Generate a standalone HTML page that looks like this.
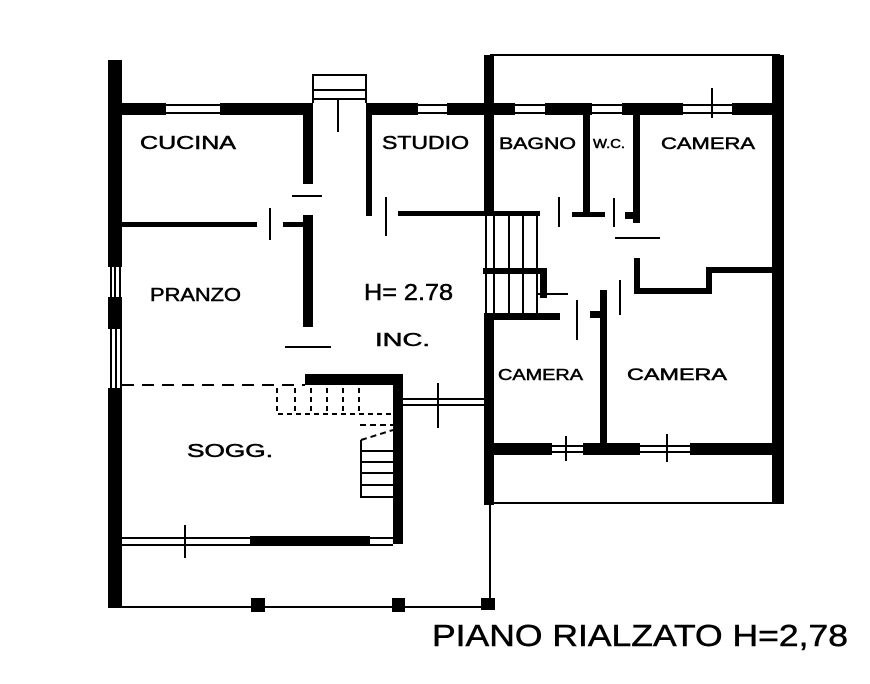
<!DOCTYPE html>
<html><head><meta charset="utf-8"><style>
html,body{margin:0;padding:0;background:#fff;}
svg{display:block;}
text{font-family:"Liberation Sans",sans-serif;font-weight:normal;fill:#000;stroke:#000;stroke-width:0.5;}
</style></head><body>
<svg width="870" height="684" viewBox="0 0 870 684" xmlns="http://www.w3.org/2000/svg">
<g fill="#000">
<rect x="108" y="60" width="14" height="207"/>
<rect x="108" y="297" width="14" height="32"/>
<rect x="108" y="388" width="14" height="220"/>
<rect x="110" y="267" width="2" height="30"/><rect x="119" y="267" width="2" height="30"/><rect x="114" y="267" width="2" height="30"/>
<rect x="110" y="329" width="2" height="59"/><rect x="115" y="329" width="2" height="59"/><rect x="120" y="329" width="2" height="59"/>
<rect x="121" y="103" width="45" height="12"/>
<rect x="220" y="103" width="93" height="12"/>
<rect x="166" y="104" width="54" height="2"/><rect x="166" y="112" width="54" height="2"/>
<rect x="366" y="103" width="52" height="12"/>
<rect x="447" y="103" width="45" height="12"/>
<rect x="418" y="104" width="29" height="2"/><rect x="418" y="112" width="29" height="2"/>
<rect x="312" y="74" width="2" height="29"/><rect x="365" y="74" width="2" height="29"/>
<rect x="312" y="74" width="55" height="2"/><rect x="312" y="89" width="55" height="2"/><rect x="312" y="98" width="55" height="2"/>
<rect x="337" y="100" width="2" height="32"/>
<rect x="303" y="115" width="10" height="69"/>
<rect x="292" y="195" width="30" height="2"/>
<rect x="303" y="215" width="10" height="112"/>
<rect x="283" y="222" width="25" height="5"/>
<rect x="121" y="222" width="136" height="5"/>
<rect x="269" y="208" width="2" height="32"/>
<rect x="285" y="346" width="46" height="2"/>
<rect x="366" y="115" width="6" height="101"/>
<rect x="385" y="197" width="2" height="39"/>
<rect x="398" y="211" width="142" height="5"/>
<rect x="484" y="55" width="10" height="158"/>
<rect x="490" y="54" width="290" height="2"/>
<rect x="772" y="55" width="12" height="448"/>
<rect x="492" y="103" width="23" height="12"/>
<rect x="545" y="103" width="47" height="12"/>
<rect x="622" y="103" width="61" height="12"/>
<rect x="732" y="103" width="42" height="12"/>
<rect x="515" y="104" width="30" height="2"/><rect x="515" y="112" width="30" height="2"/>
<rect x="592" y="104" width="30" height="2"/><rect x="592" y="112" width="30" height="2"/>
<rect x="683" y="104" width="49" height="2"/><rect x="683" y="112" width="49" height="2"/>
<rect x="711" y="88" width="2" height="30"/>
<rect x="583" y="115" width="7" height="100"/>
<rect x="572" y="212" width="33" height="5"/>
<rect x="633" y="115" width="7" height="108"/>
<rect x="625" y="212" width="12" height="7"/>
<rect x="558" y="197" width="2" height="30"/>
<rect x="613" y="198" width="2" height="29"/>
<rect x="615" y="237" width="45" height="2"/>
<rect x="634" y="258" width="6" height="36"/>
<rect x="634" y="288" width="78" height="6"/>
<rect x="706" y="268" width="6" height="26"/>
<rect x="706" y="267" width="68" height="6"/>
<rect x="485" y="213" width="2" height="100"/>
<rect x="493" y="213" width="2" height="100"/><rect x="508" y="213" width="2" height="100"/>
<rect x="522" y="213" width="2" height="100"/><rect x="536" y="213" width="2" height="100"/>
<rect x="483" y="268" width="64" height="6"/>
<rect x="540" y="268" width="7" height="30"/>
<rect x="538" y="293" width="30" height="2"/>
<rect x="484" y="313" width="76" height="7"/>
<rect x="484" y="313" width="10" height="192"/>
<rect x="576" y="300" width="2" height="40"/>
<rect x="600" y="290" width="7" height="155"/>
<rect x="590" y="311" width="14" height="7"/>
<rect x="619" y="280" width="2" height="35"/>
<rect x="490" y="443" width="62" height="12"/>
<rect x="583" y="443" width="57" height="12"/>
<rect x="690" y="443" width="84" height="12"/>
<rect x="552" y="445" width="31" height="2"/><rect x="552" y="451" width="31" height="2"/>
<rect x="640" y="445" width="50" height="2"/><rect x="640" y="451" width="50" height="2"/>
<rect x="565" y="436" width="2" height="25"/><rect x="666" y="434" width="2" height="28"/>
<rect x="484" y="502" width="300" height="2"/>
<rect x="489" y="503" width="2" height="105"/>
<rect x="305" y="374" width="98" height="11"/>
<rect x="393" y="374" width="10" height="170"/>
<rect x="403" y="398" width="82" height="2"/><rect x="403" y="404" width="82" height="2"/>
<rect x="437" y="383" width="2" height="45"/>
<rect x="360" y="440" width="2" height="57"/>
<rect x="360" y="450" width="33" height="2"/><rect x="360" y="461" width="33" height="2"/>
<rect x="360" y="472" width="33" height="2"/><rect x="360" y="484" width="33" height="2"/>
<rect x="360" y="496" width="33" height="2"/>
<rect x="250" y="536" width="120" height="10"/>
<rect x="121" y="537" width="129" height="2"/><rect x="121" y="544" width="129" height="2"/>
<rect x="370" y="537" width="23" height="2"/><rect x="370" y="544" width="23" height="2"/>
<rect x="184" y="525" width="2" height="33"/>
<rect x="121" y="606" width="370" height="2"/>
<rect x="251" y="598" width="14" height="14"/>
<rect x="392" y="598" width="13" height="14"/>
<rect x="481" y="598" width="14" height="12"/>
</g>
<g stroke="#000" stroke-width="2" fill="none">
<line x1="122" y1="385" x2="305" y2="385" stroke-dasharray="12,8"/>
<path d="M277 388 V414 H393 M295 388 V414 M311 388 V414 M327 388 V414 M343 388 V414 M359 388 V414" stroke-dasharray="5,4"/>
<path d="M360 425 H393 M361 440 L393 430" stroke-dasharray="6,4"/>
</g>
<text x="140" y="149" font-size="18" textLength="96" lengthAdjust="spacingAndGlyphs">CUCINA</text>
<text x="382" y="149" font-size="18" textLength="87" lengthAdjust="spacingAndGlyphs">STUDIO</text>
<text x="499" y="149" font-size="17" textLength="77" lengthAdjust="spacingAndGlyphs">BAGNO</text>
<text x="593" y="148" font-size="13" textLength="32" lengthAdjust="spacingAndGlyphs">W.C.</text>
<text x="661" y="149" font-size="17" textLength="94" lengthAdjust="spacingAndGlyphs">CAMERA</text>
<text x="150" y="301" font-size="18" textLength="91" lengthAdjust="spacingAndGlyphs">PRANZO</text>
<text x="364" y="300" font-size="23" textLength="89" lengthAdjust="spacingAndGlyphs">H= 2.78</text>
<text x="375" y="346" font-size="18" textLength="55" lengthAdjust="spacingAndGlyphs">INC.</text>
<text x="498" y="380" font-size="16" textLength="85" lengthAdjust="spacingAndGlyphs">CAMERA</text>
<text x="627" y="380" font-size="17" textLength="100" lengthAdjust="spacingAndGlyphs">CAMERA</text>
<text x="187" y="457" font-size="18" textLength="86" lengthAdjust="spacingAndGlyphs">SOGG.</text>
<text x="432" y="646" font-size="31" textLength="416" lengthAdjust="spacingAndGlyphs">PIANO  RIALZATO  H=2,78</text>
</svg>
</body></html>
